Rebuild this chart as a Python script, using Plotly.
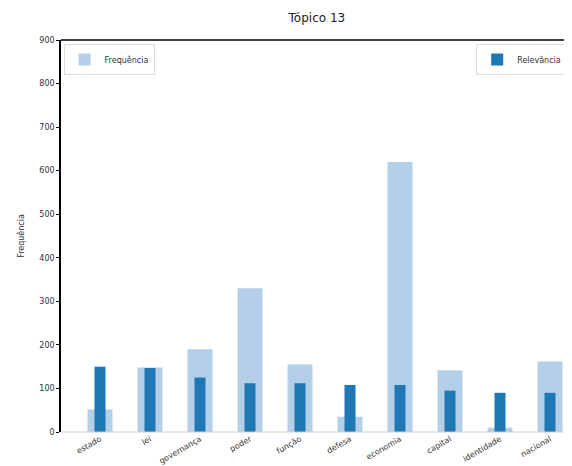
import plotly.graph_objects as go

categorias = ["estado", "lei", "governança", "poder", "função", "defesa",
              "economia", "capital", "identidade", "nacional"]
frequencia = [52, 148, 190, 330, 155, 35, 620, 142, 10, 162]
relevancia = [150, 147, 125, 112, 112, 108, 108, 95, 90, 90]
y_ticks = [0, 100, 200, 300, 400, 500, 600, 700, 800, 900]

x = list(range(len(categorias)))

fig = go.Figure()
fig.add_trace(go.Bar(x=x, y=frequencia, width=0.5, name="Frequência",
                     marker=dict(color="#b4d0e8", line=dict(width=0)),
                     showlegend=True, legend="legend"))
fig.add_trace(go.Bar(x=x, y=relevancia, width=0.22, name="Relevância",
                     marker=dict(color="#1f77b4", line=dict(width=0)),
                     showlegend=True, legend="legend2"))

fig.update_layout(
    width=572, height=466,
    margin=dict(l=53, r=0, t=32, b=42),
    paper_bgcolor="white", plot_bgcolor="white",
    barmode="overlay",
    showlegend=True,
    font=dict(family="DejaVu Sans", size=8, color="#333"),
    title=dict(text="Tópico 13", x=0.54, xanchor="center", y=0.98, yanchor="middle",
               font=dict(size=12, color="#222")),
    xaxis=dict(range=[-0.78, 9.6], tickmode="array", tickvals=x, ticktext=categorias,
               tickangle=-30, showgrid=False, zeroline=False, showline=False,
               ticks="", tickfont=dict(size=8)),
    yaxis=dict(range=[0, 900], tickmode="array", tickvals=y_ticks,
               showgrid=False, zeroline=False, showline=True, linecolor="black",
               linewidth=1.5, ticks="outside", ticklen=3, tickcolor="black",
               title=dict(text="Frequência", font=dict(size=8), standoff=14),
               tickfont=dict(size=8)),
    legend=dict(x=0.005, y=0.99, xanchor="left", yanchor="top",
                bgcolor="white", bordercolor="#ddd", borderwidth=1,
                font=dict(size=8), itemwidth=30),
    legend2=dict(x=0.8, y=0.99, xanchor="left", yanchor="top",
                 bgcolor="white", bordercolor="#ddd", borderwidth=1,
                 font=dict(size=8), itemwidth=30),
    shapes=[
        dict(type="line", xref="paper", yref="paper", x0=0, x1=1, y0=1, y1=1,
             line=dict(color="black", width=1.5)),
        dict(type="line", xref="paper", yref="paper", x0=0, x1=1, y0=0, y1=0,
             line=dict(color="#cfcfcf", width=1)),
    ],
)

fig.write_html("out.html")
